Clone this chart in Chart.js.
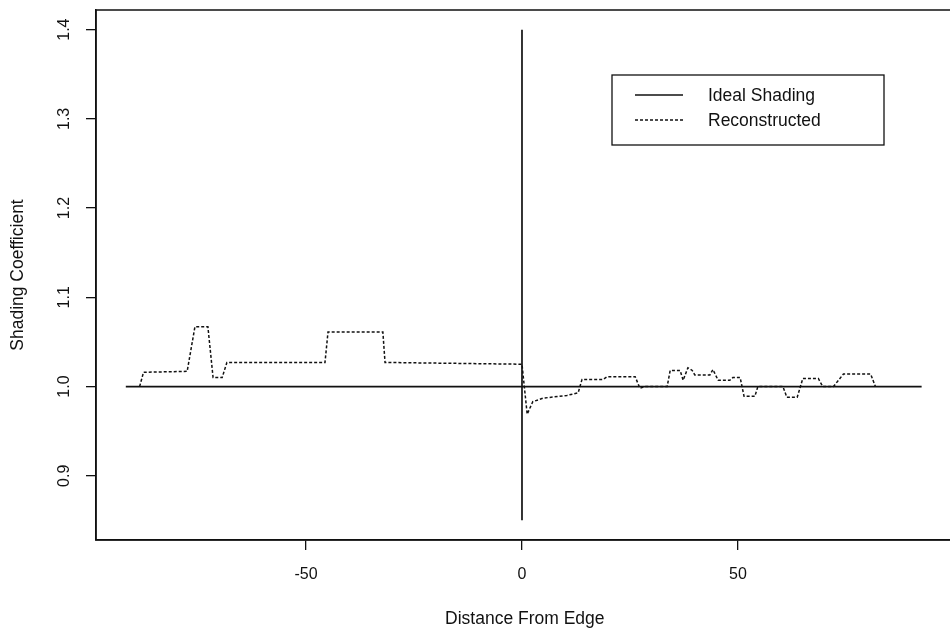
<!DOCTYPE html>
<html>
<head>
<meta charset="utf-8">
<script src="https://cdn.jsdelivr.net/npm/chart.js@4.4.1/dist/chart.umd.min.js"></script>
<style>
  html, body { margin: 0; padding: 0; background: #fff; overflow: hidden; }
  #wrap { width: 960px; height: 631px; }
</style>
</head>
<body>
<div id="wrap"><canvas id="shadingChart" width="960" height="631"></canvas></div>
<script>
// ideal shading: flat at 1.0 with a spike at the edge (x = 0)
var idealX = [-91.7, 0, 0, 0, 0, 92.5];
var idealY = [1.0, 1.0, 1.4, 0.85, 1.0, 1.0];

// reconstructed shading
var reconX = [-88.5, -87.6, -77.5, -75.7, -72.7, -71.5, -69.4, -68.3, -45.6, -44.9, -32.2, -31.7, 0.0,
              1.2, 2.5, 4.9, 10.4, 13.0, 13.9, 18.8, 19.7, 26.2, 27.3, 28.5, 33.6, 34.3, 36.6, 37.3,
              38.4, 39.4, 40.0, 43.5, 44.2, 45.4, 48.1, 48.8, 50.5, 51.4, 53.9, 54.6, 60.4, 61.3,
              63.7, 65.0, 68.6, 69.6, 72.1, 74.4, 80.7, 81.8];
var reconY = [1.0, 1.016, 1.017, 1.067, 1.067, 1.010, 1.010, 1.027, 1.027, 1.061, 1.061, 1.027, 1.025,
              0.969, 0.983, 0.987, 0.990, 0.993, 1.008, 1.008, 1.011, 1.011, 0.998, 1.0, 1.0, 1.018, 1.018, 1.007,
              1.021, 1.018, 1.013, 1.013, 1.019, 1.007, 1.007, 1.010, 1.010, 0.989, 0.989, 1.0, 1.0, 0.988,
              0.988, 1.009, 1.009, 1.0, 1.0, 1.014, 1.014, 1.0];

var xTicks = [-50, 0, 50];
var yTicks = [0.9, 1.0, 1.1, 1.2, 1.3, 1.4];
var yTickLabels = ['0.9', '1.0', '1.1', '1.2', '1.3', '1.4'];

var seriesNames = ['Ideal Shading', 'Reconstructed'];

function toPoints(xs, ys) {
    return xs.map(function (x, i) { return { x: x, y: ys[i] } })
}

var ink = '#111';
var fontFamily = '"Liberation Sans", Arial, Helvetica, sans-serif';

// box round the plot, rotated y labels and the legend, R style
var framePlugin = {
    id: 'frame',
    afterDraw: function (chart) {
        var ctx = chart.ctx
        var area = chart.chartArea
        var yScale = chart.scales.y
        ctx.save()
        ctx.strokeStyle = ink
        ctx.lineWidth = 1.5
        ctx.strokeRect(area.left, area.top, area.right - area.left, area.bottom - area.top)

        // y tick labels, turned like the reference
        ctx.fillStyle = ink
        ctx.font = '16px ' + fontFamily
        ctx.textAlign = 'center'
        ctx.textBaseline = 'middle'
        yTicks.forEach(function (v, i) {
            var py = yScale.getPixelForValue(v)
            ctx.save()
            ctx.translate(65, py)
            ctx.rotate(-Math.PI / 2)
            ctx.fillText(yTickLabels[i], 0, 0)
            ctx.restore()
        })

        // legend
        var lx = 612, ly = 75, lw = 272, lh = 70
        ctx.lineWidth = 1.3
        ctx.strokeRect(lx, ly, lw, lh)
        var rows = [95, 120]
        chart.data.datasets.forEach(function (ds, i) {
            ctx.beginPath()
            ctx.lineWidth = ds.borderWidth
            ctx.setLineDash(ds.borderDash || [])
            ctx.moveTo(635, rows[i])
            ctx.lineTo(683, rows[i])
            ctx.stroke()
            ctx.setLineDash([])
            ctx.font = '17.5px ' + fontFamily
            ctx.textAlign = 'left'
            ctx.fillText(ds.label, 708, rows[i] + 1)
        })
        ctx.restore()
    }
}

var chartCtx = document.getElementById('shadingChart').getContext('2d')

var shadingChart = new Chart(chartCtx, {
    type: 'line',
    data: {
        datasets: [
            {
                label: seriesNames[0],
                data: toPoints(idealX, idealY),
                borderColor: ink,
                borderWidth: 1.7,
                pointRadius: 0,
                tension: 0,
                fill: false
            },
            {
                label: seriesNames[1],
                data: toPoints(reconX, reconY),
                borderColor: ink,
                borderWidth: 1.5,
                borderDash: [3, 2],
                pointRadius: 0,
                tension: 0,
                fill: false
            }
        ]
    },
    options: {
        responsive: false,
        animation: false,
        devicePixelRatio: 1,
        layout: { padding: { top: 10, right: 6.4, left: 0, bottom: 0 } },
        plugins: {
            legend: { display: false },
            tooltip: { enabled: false }
        },
        scales: {
            x: {
                type: 'linear',
                min: -98.6,
                max: 99.9,
                afterBuildTicks: function (scale) {
                    scale.ticks = xTicks.map(function (v) { return { value: v } })
                },
                afterFit: function (scale) { scale.height = 91 },
                grid: { drawOnChartArea: false, drawTicks: true, tickLength: 10, color: ink, lineWidth: 1.3 },
                border: { display: true, color: ink, width: 1.5 },
                ticks: {
                    color: ink,
                    padding: 15,
                    maxRotation: 0,
                    font: { family: fontFamily, size: 16 },
                    callback: function (v) { return String(v) }
                },
                title: {
                    display: true,
                    text: 'Distance From Edge',
                    color: ink,
                    font: { family: fontFamily, size: 17.5 },
                    padding: { top: 0, bottom: 1 }
                }
            },
            y: {
                type: 'linear',
                min: 0.828,
                max: 1.422,
                afterBuildTicks: function (scale) {
                    scale.ticks = yTicks.map(function (v) { return { value: v } })
                },
                afterFit: function (scale) { scale.width = 96 },
                grid: { drawOnChartArea: false, drawTicks: true, tickLength: 10, color: ink, lineWidth: 1.3 },
                border: { display: true, color: ink, width: 1.5 },
                ticks: { display: false },
                title: {
                    display: true,
                    text: 'Shading Coefficient',
                    color: ink,
                    font: { family: fontFamily, size: 17.5 },
                    padding: { top: 8, bottom: 0 }
                }
            }
        }
    },
    plugins: [framePlugin]
})
</script>
</body>
</html>
